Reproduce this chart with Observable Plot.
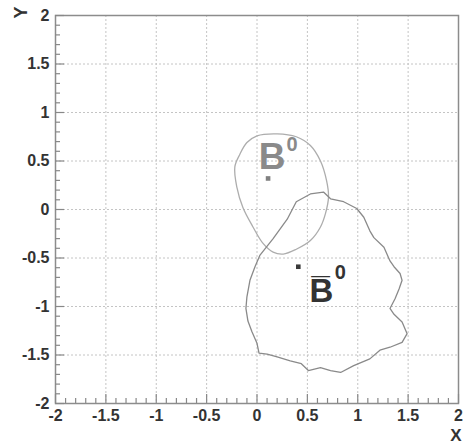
<!DOCTYPE html>
<html><head><meta charset="utf-8">
<script src="https://cdn.jsdelivr.net/npm/d3@7"></script>
<script src="https://cdn.jsdelivr.net/npm/@observablehq/plot@0.6"></script>
<style>
html,body{margin:0;padding:0;background:#fff}
svg{font-family:"Liberation Sans",Arial,sans-serif;}
g[aria-label="x-axis tick label"] text, g[aria-label="y-axis tick label"] text{font-weight:bold;}
</style>
</head><body><div id="chart"></div>
<script>
// Tick positions and labels
const majorTicks = [-2, -1.5, -1, -0.5, 0, 0.5, 1, 1.5, 2];
const tickLabels = ["-2", "-1.5", "-1", "-0.5", "0", "0.5", "1", "1.5", "2"];
const minorTicks = [-1.9,-1.8,-1.7,-1.6,-1.4,-1.3,-1.2,-1.1,-0.9,-0.8,-0.7,-0.6,-0.4,-0.3,-0.2,-0.1,
  0.1,0.2,0.3,0.4,0.6,0.7,0.8,0.9,1.1,1.2,1.3,1.4,1.6,1.7,1.8,1.9];

// B0 contour (light gray)
const b0X = [0.00, 0.20, 0.39, 0.53, 0.63, 0.69, 0.71, 0.68, 0.63, 0.53, 0.39, 0.26, 0.16, 0.06, -0.04, -0.14, -0.20, -0.22, -0.17, -0.10];
const b0Y = [0.76, 0.78, 0.75, 0.66, 0.50, 0.30, 0.13, -0.04, -0.18, -0.32, -0.41, -0.46, -0.44, -0.35, -0.18, 0.02, 0.23, 0.44, 0.57, 0.69];

// B0-bar contour (darker gray)
const bbarX = [0.53, 0.66, 0.73, 0.86, 0.99, 1.06, 1.12, 1.16, 1.26, 1.32, 1.36, 1.42, 1.44, 1.41, 1.37, 1.32, 1.36, 1.44, 1.49, 1.44, 1.32, 1.22, 1.12, 0.96, 0.83, 0.73, 0.63, 0.51, 0.44, 0.33, 0.20, 0.10, 0.02, 0.00, -0.05, -0.09, -0.11, -0.10, -0.07, -0.02, 0.03, 0.16, 0.30, 0.39];
const bbarY = [0.16, 0.18, 0.11, 0.08, 0.01, -0.08, -0.22, -0.29, -0.39, -0.53, -0.59, -0.66, -0.73, -0.82, -0.92, -1.02, -1.08, -1.16, -1.28, -1.37, -1.42, -1.45, -1.54, -1.61, -1.68, -1.66, -1.63, -1.66, -1.59, -1.56, -1.52, -1.49, -1.48, -1.38, -1.26, -1.15, -1.02, -0.90, -0.73, -0.59, -0.47, -0.30, -0.10, 0.08];

// Best-fit markers
const markerNames = ["B0", "B0bar"];
const markerX = [0.11, 0.41];
const markerY = [0.32, -0.59];

const b0 = b0X.map((x, i) => ({x, y: b0Y[i]}));
const bbar = bbarX.map((x, i) => ({x, y: bbarY[i]}));
const markers = markerNames.map((n, i) => ({name: n, x: markerX[i], y: markerY[i]}));

const chart = Plot.plot({
  width: 465,
  height: 447,
  marginLeft: 55,
  marginRight: 7,
  marginTop: 15,
  marginBottom: 44,
  x: {domain: [-2, 2], label: null},
  y: {domain: [-2, 2], label: null},
  style: {background: "#fff", fontFamily: "'Liberation Sans', Arial, sans-serif"},
  marks: [
    Plot.gridX(majorTicks, {stroke: "#c4c4c4", strokeOpacity: 1, strokeDasharray: "2,2"}),
    Plot.gridY(majorTicks, {stroke: "#c4c4c4", strokeOpacity: 1, strokeDasharray: "2,2"}),
    Plot.line(b0, {x: "x", y: "y", stroke: "#adadad", strokeWidth: 1.3, curve: "catmull-rom-closed"}),
    Plot.line(bbar, {x: "x", y: "y", stroke: "#8a8a8a", strokeWidth: 1.3, curve: "linear-closed"}),
    Plot.dot(markers.slice(0, 1), {x: "x", y: "y", symbol: "square", r: 2.6, fill: "#808080", stroke: null}),
    Plot.dot(markers.slice(1), {x: "x", y: "y", symbol: "square", r: 2.6, fill: "#3a3a3a", stroke: null}),
    // B0 label
    Plot.text(markers.slice(0, 1), {x: "x", y: "y", text: () => "B", dx: 4, dy: -21, fontSize: 37, fontWeight: "bold", fill: "#8a8a8a"}),
    Plot.text(markers.slice(0, 1), {x: "x", y: "y", text: () => "0", dx: 24, dy: -34, fontSize: 20, fontWeight: "bold", fill: "#8a8a8a"}),
    // B0-bar label
    Plot.text(markers.slice(1), {x: "x", y: "y", text: () => "B\u0305", dx: 23, dy: 25, fontSize: 33, fontWeight: "bold", fill: "#333"}),
    Plot.text(markers.slice(1), {x: "x", y: "y", text: () => "0", dx: 42, dy: 6, fontSize: 20, fontWeight: "bold", fill: "#333"}),
    Plot.frame({stroke: "#8c8c8c", strokeWidth: 1.5}),
    // Inward ticks
    Plot.axisX(majorTicks, {anchor: "bottom", tickSize: -9, text: null, label: null, stroke: "#888", strokeWidth: 1.2}),
    Plot.axisX(minorTicks, {anchor: "bottom", tickSize: -5, text: null, label: null, stroke: "#888", strokeWidth: 1.2}),
    Plot.axisY(majorTicks, {anchor: "left", tickSize: -9, text: null, label: null, stroke: "#888", strokeWidth: 1.2}),
    Plot.axisY(minorTicks, {anchor: "left", tickSize: -5, text: null, label: null, stroke: "#888", strokeWidth: 1.2}),
    // Tick labels
    Plot.axisX(majorTicks, {anchor: "bottom", tickSize: 0, tickPadding: 6, tickFormat: (d) => tickLabels[majorTicks.indexOf(d)], fontSize: 16, fontWeight: "bold", fill: "#333", label: null}),
    Plot.axisY(majorTicks, {anchor: "left", tickSize: 0, tickPadding: 6, tickFormat: (d) => tickLabels[majorTicks.indexOf(d)], fontSize: 16, fontWeight: "bold", fill: "#333", label: null}),
    // Axis titles
    Plot.text(["X"], {frameAnchor: "bottom-right", text: d => d, dx: 3, dy: 37, textAnchor: "end", fontSize: 17, fontWeight: "bold", fill: "#333"}),
    Plot.text(["Y"], {frameAnchor: "top-left", text: d => d, dx: -41, dy: 3, rotate: -90, fontSize: 18, fontWeight: "bold", fill: "#333"})
  ]
});
document.getElementById("chart").appendChild(chart);
</script>
</body></html>
